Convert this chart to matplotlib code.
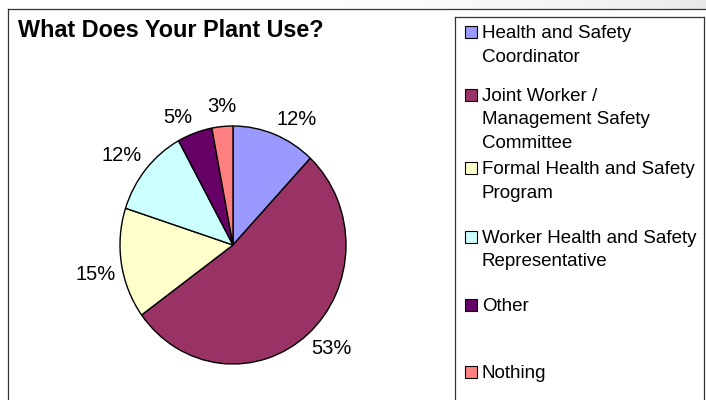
import numpy as np
import matplotlib.pyplot as plt
from matplotlib.patches import Rectangle

plt.rcParams['font.family'] = ['Liberation Sans', 'DejaVu Sans']

categories = ["Health and Safety\nCoordinator",
              "Joint Worker /\nManagement Safety\nCommittee",
              "Formal Health and Safety\nProgram",
              "Worker Health and Safety\nRepresentative",
              "Other",
              "Nothing"]
shares = [12, 53, 15, 12, 5, 3]
colors = ["#9999FF", "#993366", "#FFFFCC", "#CCFFFF", "#660066", "#FF8080"]
title = "What Does Your Plant Use?"

W, H = 706, 400
fig = plt.figure(figsize=(W/100, H/100), dpi=100)

def fx(x):
    return x / W

def fy(y):
    return 1 - y / H

# faint grey band at the very top (background of the slide)
band = fig.add_axes([0, fy(9), 1, 9/H])
band.imshow(np.linspace(0, 1, 200)[None, :]**3, cmap='Greys', vmin=0, vmax=6,
            aspect='auto', extent=(0, 1, 0, 1))
band.axis('off')

# pie, centre (233,245) px, radii 113 x 119 px
cx, cy, rx, ry = 233, 245, 113, 119
half = 160
ax = fig.add_axes([fx(cx - half), fy(cy + half), 2*half/W, 2*half/H])
wedges, texts = ax.pie(shares, colors=colors, labels=[f"{v}%" for v in shares],
                       startangle=90, counterclock=False, labeldistance=1.05,
                       wedgeprops=dict(edgecolor='black', linewidth=1.0),
                       textprops=dict(fontsize=14.5, color='black'))
for t in texts:
    x, y = t.get_position()
    t.set_va('bottom' if y > 0 else 'top')
    if abs(x) < 0.15:
        t.set_ha('center')
        t.set_position((x, y + 0.04))
ax.set_aspect('auto')
ax.set_xlim(-half/rx, half/rx)
ax.set_ylim(-half/ry, half/ry)
ax.axis('off')

# title
fig.text(fx(18), fy(37), title, fontsize=16.8, fontweight='bold',
         ha='left', va='baseline')

# chart frame and legend frame
lw = 0.9
fig.add_artist(plt.Line2D([fx(8), fx(8)], [fy(9), fy(401)], color='#333333', lw=lw))
fig.add_artist(plt.Line2D([fx(8), fx(707)], [fy(9), fy(9)], color='#333333', lw=lw))
fig.add_artist(plt.Line2D([fx(455), fx(455)], [fy(17), fy(401)], color='#333333', lw=lw))
fig.add_artist(plt.Line2D([fx(455), fx(704)], [fy(17), fy(17)], color='#333333', lw=lw))
fig.add_artist(plt.Line2D([fx(704), fx(704)], [fy(17), fy(401)], color='#333333', lw=lw))

# legend entries (Excel-style uneven spacing)
entry_y = [32, 95, 168, 237, 305, 372]
line_gap = 23.5
for lab, col, y0 in zip(categories, colors, entry_y):
    fig.add_artist(Rectangle((fx(465), fy(y0 + 6)), 12/W, 12/H, facecolor=col,
                             edgecolor='black', linewidth=0.8,
                             transform=fig.transFigure))
    for k, line in enumerate(lab.split("\n")):
        fig.text(fx(482), fy(y0 + 6 + k*line_gap), line, fontsize=13.5,
                 ha='left', va='baseline')

fig.savefig("out.png", dpi=100)
